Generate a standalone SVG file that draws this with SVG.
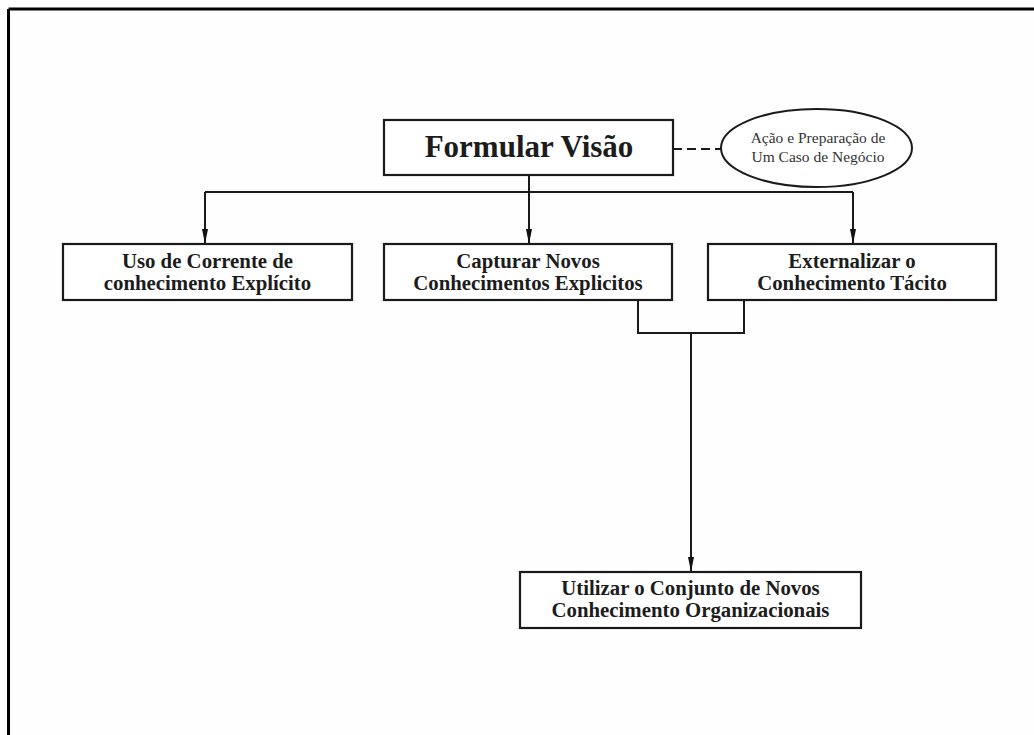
<svg xmlns="http://www.w3.org/2000/svg" width="1034" height="735" viewBox="0 0 1034 735">
  <defs>
    <!-- slender filled arrowhead, tip at the end of the line -->
    <marker id="arrow" viewBox="0 0 15 6" refX="15" refY="3" markerWidth="15" markerHeight="6" markerUnits="userSpaceOnUse" orient="auto">
      <path d="M0,0 L15,3 L0,6 Z" fill="#111"/>
    </marker>
    <style>
      .box { fill: #ffffff; stroke: #1a1a1a; stroke-width: 2.2; }
      .wire { fill: none; stroke: #1a1a1a; stroke-width: 2; }
      .label { font-family: "Liberation Serif", "Times New Roman", serif; font-weight: bold; font-size: 20.8px; fill: #1c1c1c; text-anchor: middle; }
      .title { font-family: "Liberation Serif", "Times New Roman", serif; font-weight: bold; font-size: 31px; fill: #1c1c1c; text-anchor: middle; }
      .note { font-family: "Liberation Serif", "Times New Roman", serif; font-size: 15.5px; fill: #333; text-anchor: middle; }
    </style>
  </defs>

  <rect x="0" y="0" width="1034" height="735" fill="#fefefe"/>

  <!-- page frame: top and left rules -->
  <path d="M8.5,9 H1034 M8.5,9 V735" fill="none" stroke="#000" stroke-width="3"/>

  <g id="connectors">
    <!-- vision to note -->
    <line x1="673" y1="149" x2="721" y2="149" class="wire" stroke-dasharray="9,5"/>
    <!-- bus from vision to the three streams -->
    <path d="M205,192 H853" class="wire"/>
    <path d="M205,192 V244" class="wire" marker-end="url(#arrow)"/>
    <path d="M529,175 V244" class="wire" marker-end="url(#arrow)"/>
    <path d="M853,192 V244" class="wire" marker-end="url(#arrow)"/>
    <!-- merge of capture and externalize into organizational use -->
    <path d="M638,300 V333 H744 V300" class="wire"/>
    <path d="M691,333 V572" class="wire" marker-end="url(#arrow)"/>
  </g>

  <g id="node-vision">
    <rect x="384" y="120" width="289" height="55" class="box"/>
    <text x="529" y="157" class="title">Formular Visão</text>
  </g>

  <g id="node-business-case">
    <ellipse cx="816.5" cy="148" rx="95.5" ry="39" fill="#fff" stroke="#1a1a1a" stroke-width="2"/>
    <text x="818" y="143" class="note">Ação e Preparação de</text>
    <text x="818" y="162" class="note">Um Caso de Negócio</text>
  </g>

  <g id="node-current">
    <rect x="63" y="244" width="289" height="56" class="box"/>
    <text x="207.5" y="268" class="label">Uso de Corrente de</text>
    <text x="207.5" y="290" class="label">conhecimento Explícito</text>
  </g>

  <g id="node-capture">
    <rect x="384" y="244" width="288" height="56" class="box"/>
    <text x="528" y="268" class="label">Capturar Novos</text>
    <text x="528" y="290" class="label">Conhecimentos Explicitos</text>
  </g>

  <g id="node-externalize">
    <rect x="708" y="244" width="288" height="56" class="box"/>
    <text x="852" y="268" class="label">Externalizar o</text>
    <text x="852" y="290" class="label">Conhecimento Tácito</text>
  </g>

  <g id="node-organizational">
    <rect x="520" y="572" width="341" height="56" class="box"/>
    <text x="690.5" y="595" class="label">Utilizar o Conjunto de Novos</text>
    <text x="690.5" y="617" class="label">Conhecimento Organizacionais</text>
  </g>
</svg>
